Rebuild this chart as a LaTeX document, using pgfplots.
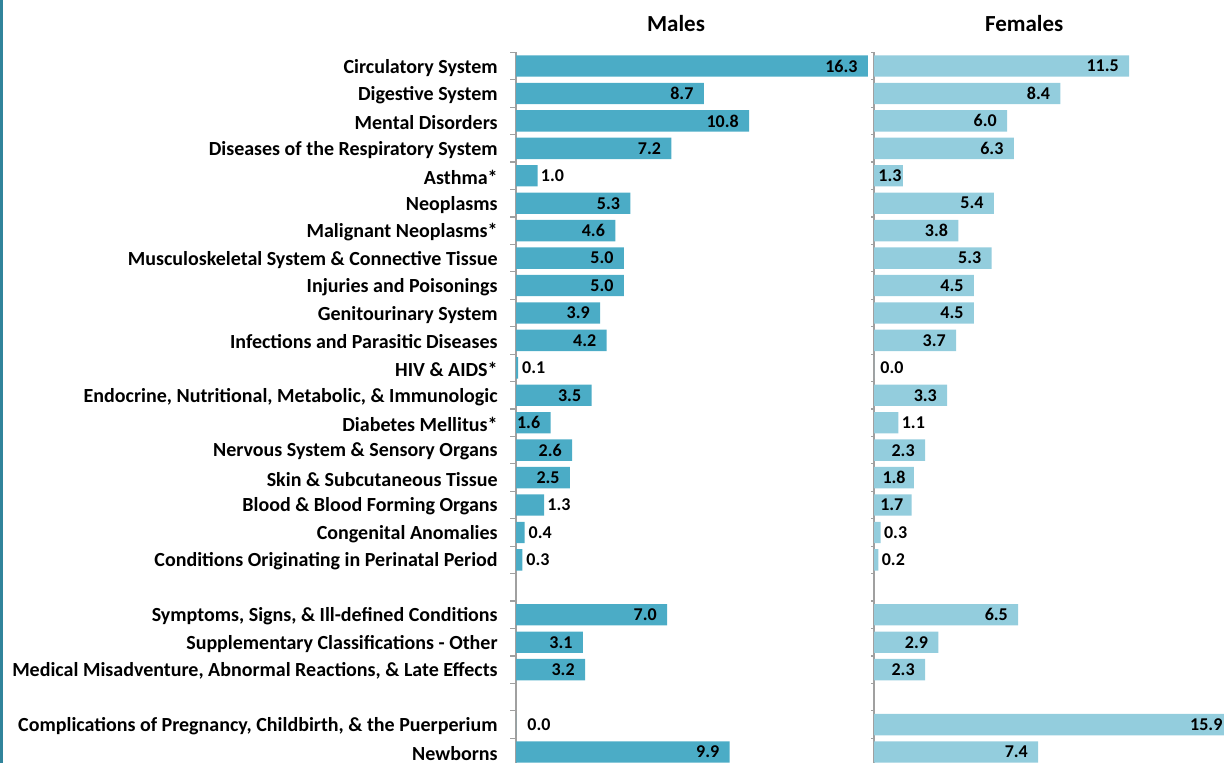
\documentclass[border=0pt]{standalone}
\usepackage{pgfplots}
\usepackage{pgfplotstable}
\pgfplotsset{compat=1.18}
\usepackage{fontspec}
\setmainfont{Carlito}
\definecolor{mcol}{RGB}{75,172,198}
\definecolor{fcol}{RGB}{147,205,221}
\definecolor{axcol}{RGB}{160,160,160}
\definecolor{frame}{RGB}{49,132,155}

% anch: 0 = label inside (east anchor), 180 = label outside (west anchor)
\pgfplotstableread{
idx val anch dx
0 16.3 0 -5
1 8.7 0 -5
2 10.8 0 -5
3 7.2 0 -5
4 1.0 180 1.5
5 5.3 0 -5
6 4.6 0 -5
7 5.0 0 -5
8 5.0 0 -5
9 3.9 0 -5
10 4.2 0 -5
11 0.1 180 1.8
12 3.5 0 -5
13 1.6 0 -5
14 2.6 0 -5
15 2.5 0 -5
16 1.3 180 1.5
17 0.4 180 1.8
18 0.3 180 1.8
20 7.0 0 -5
21 3.1 0 -5
22 3.2 0 -5
24 0.0 180 5.5
25 9.9 0 -5
}\males

\pgfplotstableread{
idx val anch dx
0 11.5 0 -5
1 8.4 0 -5
2 6.0 0 -5
3 6.3 0 -5
4 1.3 0 -0.5
5 5.4 0 -5
6 3.8 0 -5
7 5.3 0 -5
8 4.5 0 -5
9 4.5 0 -5
10 3.7 0 -5
11 0.0 180 3
12 3.3 0 -5
13 1.1 180 1.5
14 2.3 0 -5
15 1.8 0 -4
16 1.7 0 -4
17 0.3 180 1.5
18 0.2 180 1.5
20 6.5 0 -5
21 2.9 0 -5
22 2.3 0 -5
24 15.9 0 -2
25 7.4 0 -5
}\females

\pgfplotsset{
  catbar/.style={
    xbar, bar width=0.78, scale only axis,
    y dir=reverse, ymin=-0.5, ymax=25.5,
    axis y line*=left, axis x line=none,
    xtick=\empty,
    ytick={0,...,25},
    minor ytick={-0.5,0.5,...,25.5},
    major tick length=0pt,
    minor tick length=3pt,
    tick align=outside,
    axis line style={axcol, line width=0.6pt},
    minor tick style={axcol, line width=0.6pt},
    height=356.7pt,
    clip=false,
    nodes near coords,
    point meta=x,
    visualization depends on={\thisrow{anch} \as \anch},
    visualization depends on={\thisrow{dx} \as \dx},
    every node near coord/.append style={
      anchor=\anch, xshift=\dx pt, inner sep=0pt,
      font=\fontsize{9}{10}\selectfont\bfseries, text=black,
      /pgf/number format/fixed, /pgf/number format/fixed zerofill,
      /pgf/number format/precision=1,
      /pgf/number format/assume math mode=true},
  }
}

\begin{document}
\begin{tikzpicture}
\clip (0,0) rectangle (612pt,-381.5pt);
\draw[frame, line width=1.3pt] (0.75pt,0) -- (0.75pt,-381.5pt);

\begin{axis}[catbar,
  at={(258pt,-382.85pt)}, anchor=south west,
  width=177pt, xmin=0, xmax=16.4,
  yticklabels={Circulatory System, Digestive System, Mental Disorders,
    Diseases of the Respiratory System, Asthma*, Neoplasms,
    Malignant Neoplasms*, Musculoskeletal System \& Connective Tissue,
    Injuries and Poisonings, Genitourinary System,
    Infections and Parasitic Diseases, HIV \& AIDS*,
    {Endocrine, Nutritional, Metabolic, \& Immunologic},
    Diabetes Mellitus*, Nervous System \& Sensory Organs,
    Skin \& Subcutaneous Tissue, Blood \& Blood Forming Organs,
    Congenital Anomalies, Conditions Originating in Perinatal Period,
    {}, {Symptoms, Signs, \& Ill-defined Conditions},
    Supplementary Classifications - Other,
    {Medical Misadventure, Abnormal Reactions, \& Late Effects},
    {}, {Complications of Pregnancy, Childbirth, \& the Puerperium},
    Newborns},
  yticklabel style={font=\fontsize{10}{12}\selectfont\bfseries, anchor=east, inner sep=0pt, xshift=-9pt, yshift=-0.8pt},
  title={Males},
  every axis title/.style={at={(0.452,1)}, anchor=base, yshift=10.4pt,
    inner sep=0pt, font=\fontsize{11.5}{13}\selectfont\bfseries},
]
\addplot[fill=mcol, draw=none] table[x=val, y=idx] {\males};
\end{axis}

\begin{axis}[catbar,
  at={(437pt,-382.85pt)}, anchor=south west,
  width=177.5pt, xmin=0, xmax=16.0,
  yticklabels={},
  minor tick length=1.5pt,
  title={Females},
  every axis title/.style={at={(0.423,1)}, anchor=base, yshift=10.4pt,
    inner sep=0pt, font=\fontsize{11.5}{13}\selectfont\bfseries},
]
\addplot[fill=fcol, draw=none] table[x=val, y=idx] {\females};
\end{axis}
\end{tikzpicture}
\end{document}
